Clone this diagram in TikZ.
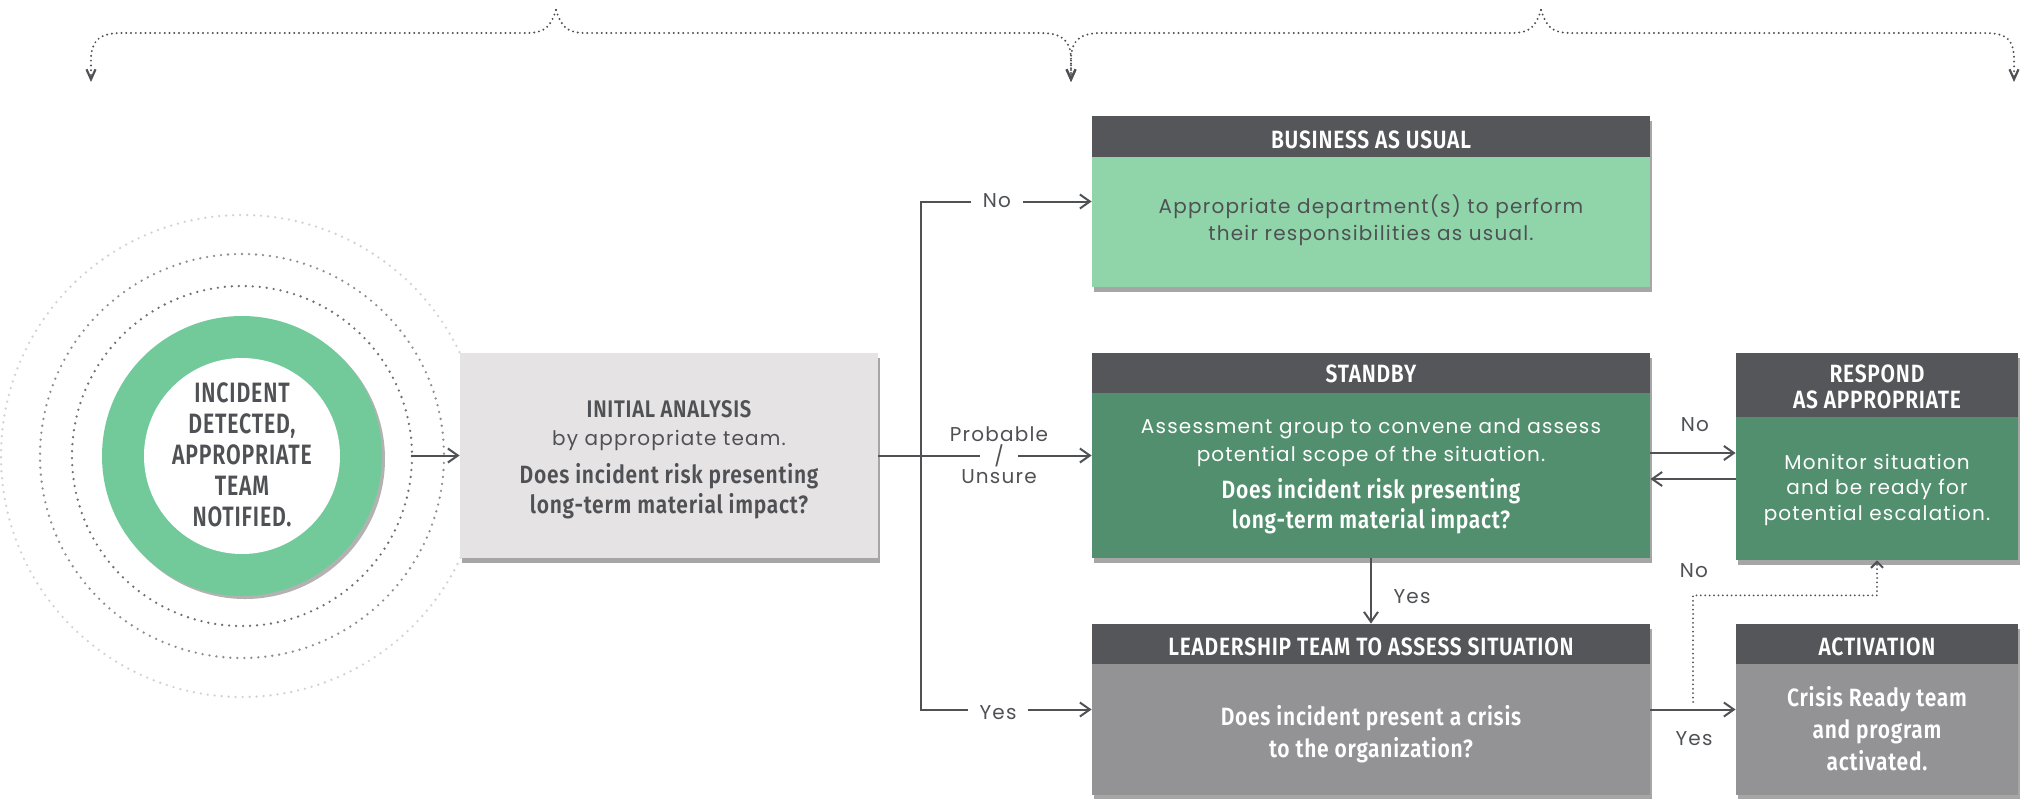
\documentclass[tikz,border=0pt]{standalone}
\usepackage{fontspec}
\setmainfont{Poppins}
\newfontfamily\rale{Poppins}[LetterSpace=6]
\newfontfamily\cnd{Fira Sans}[FakeStretch=0.84, LetterSpace=3, BoldFont={Fira Sans SemiBold}]
\newfontfamily\cndc{Fira Sans}[FakeStretch=0.76, LetterSpace=3, BoldFont={Fira Sans SemiBold}]
\usetikzlibrary{arrows.meta,shadows,fit,calc}
\definecolor{hdr}{HTML}{54565A}
\definecolor{txt}{HTML}{4F5155}
\definecolor{lgreen}{HTML}{8FD5A9}
\definecolor{dgreen}{HTML}{528F6E}
\definecolor{gbody}{HTML}{939396}
\definecolor{ibox}{HTML}{E5E3E4}
\definecolor{ring}{HTML}{72CA9B}
\definecolor{c1}{HTML}{6F7073}
\definecolor{c2}{HTML}{8E8F92}
\definecolor{c3}{HTML}{D2D2D3}
\tikzset{
  boxsh/.style={inner sep=0pt, draw=none, drop shadow={shadow xshift=1pt, shadow yshift=-2.5pt, opacity=0.35, fill=black}},
  hdrbox/.style={inner sep=0pt, draw=none, fill=hdr},
  ttl/.style={font=\cnd\bfseries\fontsize{12.5}{15}\selectfont, text=white, anchor=base, inner sep=0pt},
  ttlg/.style={font=\cnd\bfseries\fontsize{12}{14}\selectfont, text=txt, anchor=base, inner sep=0pt},
  qst/.style={font=\cnd\bfseries\fontsize{12.5}{15}\selectfont, anchor=base, inner sep=0pt},
  bdy/.style={font=\rale\fontsize{10}{12}\selectfont, anchor=base, inner sep=0pt},
  lbl/.style={font=\rale\fontsize{10}{12}\selectfont, text=txt, anchor=base, inner sep=0pt},
  circt/.style={font=\cndc\bfseries\fontsize{14}{15.5}\selectfont, text=txt, align=center, inner sep=0pt},
  conn/.style={draw=txt, line width=1pt, -{Straight Barb[length=5pt,width=7pt]}},
  dconn/.style={draw=txt, line width=1pt, dash pattern=on 0pt off 2.2pt, line cap=round, -{Straight Barb[length=3pt,width=6pt]}},
  brc/.style={draw=txt, line width=1.1pt, dash pattern=on 0pt off 2.4pt, line cap=round, -{Straight Barb[length=5pt,width=4.5pt]}},
  dotc/.style={line width=1.3pt, dash pattern=on 0pt off 3.5pt, line cap=round},
}
\begin{document}
\begin{tikzpicture}[x=0.5pt,y=-0.5pt]
\useasboundingbox (0,0) rectangle (2034,798);
% top braces
\draw[brc] (556,10) .. controls (550,28) and (545,33) .. (525,33) -- (122,33) .. controls (100,33) and (91,40) .. (91,60) -- (91,82);
\draw[brc] (556,10) .. controls (562,28) and (567,33) .. (587,33) -- (1040,33) .. controls (1062,33) and (1071,40) .. (1071,60) -- (1071,82);
\draw[brc] (1541,10) .. controls (1535,28) and (1530,33) .. (1510,33) -- (1102,33) .. controls (1080,33) and (1071,40) .. (1071,60) -- (1071,82);
\draw[brc] (1541,10) .. controls (1547,28) and (1552,33) .. (1572,33) -- (1985,33) .. controls (2007,33) and (2014,40) .. (2014,60) -- (2014,82);
% circle
\coordinate (ctr) at (242,456);
\draw[dotc, draw=c3] (ctr) circle[radius=241];
\draw[dotc, draw=c2] (ctr) circle[radius=202];
\draw[dotc, draw=c1] (ctr) circle[radius=170];
\node[circle, fill=ring, minimum size=140pt, inner sep=0pt, drop shadow={shadow xshift=1.5pt, shadow yshift=-1.5pt, opacity=0.3, fill=black}] (ring) at (ctr) {};
\node[circle, fill=white, minimum size=98pt, inner sep=0pt] (hole) at (ctr) {};
\node[circt] (inc) at (242,455) {INCIDENT\\DETECTED,\\APPROPRIATE\\TEAM\\NOTIFIED.};
% boxes
\node[boxsh, fill=ibox, fit={(460,353) (878,558)}] (init) {};
\node[boxsh, fill=lgreen, fit={(1092,116) (1650,287)}] (bau) {};
\node[hdrbox, fit={(1092,116) (1650,157)}] (bauh) {};
\node[boxsh, fill=dgreen, fit={(1092,353) (1650,558)}] (standby) {};
\node[hdrbox, fit={(1092,353) (1650,393)}] (standbyh) {};
\node[boxsh, fill=dgreen, fit={(1736,353) (2018,560)}] (respond) {};
\node[hdrbox, fit={(1736,353) (2018,417)}] (respondh) {};
\node[boxsh, fill=gbody, fit={(1092,624) (1650,795)}] (lead) {};
\node[hdrbox, fit={(1092,624) (1650,664)}] (leadh) {};
\node[boxsh, fill=gbody, fit={(1736,624) (2018,795)}] (act) {};
\node[hdrbox, fit={(1736,624) (2018,664)}] (acth) {};
% initial texts
\node[ttlg] (ia1) at (669,417) {INITIAL ANALYSIS};
\node[bdy, text=txt] (ia2) at (669,445) {by appropriate team.};
\node[qst, text=txt] (ia3) at (669,483) {Does incident risk presenting};
\node[qst, text=txt] (ia4) at (669,513) {long-term material impact?};
% business as usual
\node[ttl] (baut) at (1371,148) {BUSINESS AS USUAL};
\node[bdy, text=txt] (bau1) at (1371,213) {Appropriate department(s) to perform};
\node[bdy, text=txt] (bau2) at (1371,240) {their responsibilities as usual.};
% standby
\node[ttl] (sbt) at (1371,382) {STANDBY};
\node[bdy, text=white] (sb1) at (1371,433) {Assessment group to convene and assess};
\node[bdy, text=white] (sb2) at (1371,461) {potential scope of the situation.};
\node[qst, text=white] (sb3) at (1371,498) {Does incident risk presenting};
\node[qst, text=white] (sb4) at (1371,528) {long-term material impact?};
% respond
\node[ttl] (rst1) at (1877,382) {RESPOND};
\node[ttl] (rst2) at (1877,408) {AS APPROPRIATE};
\node[bdy, text=white] (rs1) at (1877,469) {Monitor situation};
\node[bdy, text=white] (rs2) at (1877,494) {and be ready for};
\node[bdy, text=white] (rs3) at (1877,520) {potential escalation.};
% leadership
\node[ttl] (ldt) at (1371,655) {LEADERSHIP TEAM TO ASSESS SITUATION};
\node[qst, text=white] (ld1) at (1371,725) {Does incident present a crisis};
\node[qst, text=white] (ld2) at (1371,757) {to the organization?};
% activation
\node[ttl] (act0) at (1877,655) {ACTIVATION};
\node[qst, text=white] (ac1) at (1877,706) {Crisis Ready team};
\node[qst, text=white] (ac2) at (1877,738) {and program};
\node[qst, text=white] (ac3) at (1877,770) {activated.};
% connectors
\coordinate (cout) at (411,455.5);
\draw[conn] (cout) -- (init.west);
\coordinate (sp) at (921,455.5);
\draw[conn] (init.east) -- (standby.west);
\draw[conn] (sp) |- (bau.west);
\draw[conn] (sp) |- (lead.west);
\node[lbl, fill=white, inner xsep=6pt] (lno) at (997,207) {No};
\node[lbl] (lprob) at (999,441) {Probable};
\node[lbl, fill=white, inner xsep=7pt, inner ysep=1pt, anchor=center] (lslash) at (999,455.5) {/};
\node[lbl] (luns) at (999,483) {Unsure};
\node[lbl, fill=white, inner xsep=6pt] (lyes) at (998,719) {Yes};
\coordinate (ya) at (0,453);
\coordinate (yb) at (0,479);
\draw[conn] (standby.east |- ya) -- (respond.west |- ya);
\draw[conn] (respond.west |- yb) -- (standby.east |- yb);
\node[lbl] (rno) at (1695,431) {No};
\draw[conn] (standby) -- (lead);
\node[lbl] (syes) at (1412,603) {Yes};
\draw[conn] (lead) -- (act);
\node[lbl] (ayes) at (1694,745) {Yes};
\coordinate (dst) at (1693,702);
\draw[dconn] (dst) |- ($(respond.south)+(0,35)$) -- (respond.south);
\node[lbl] (dno) at (1694,577) {No};
\end{tikzpicture}
\end{document}
